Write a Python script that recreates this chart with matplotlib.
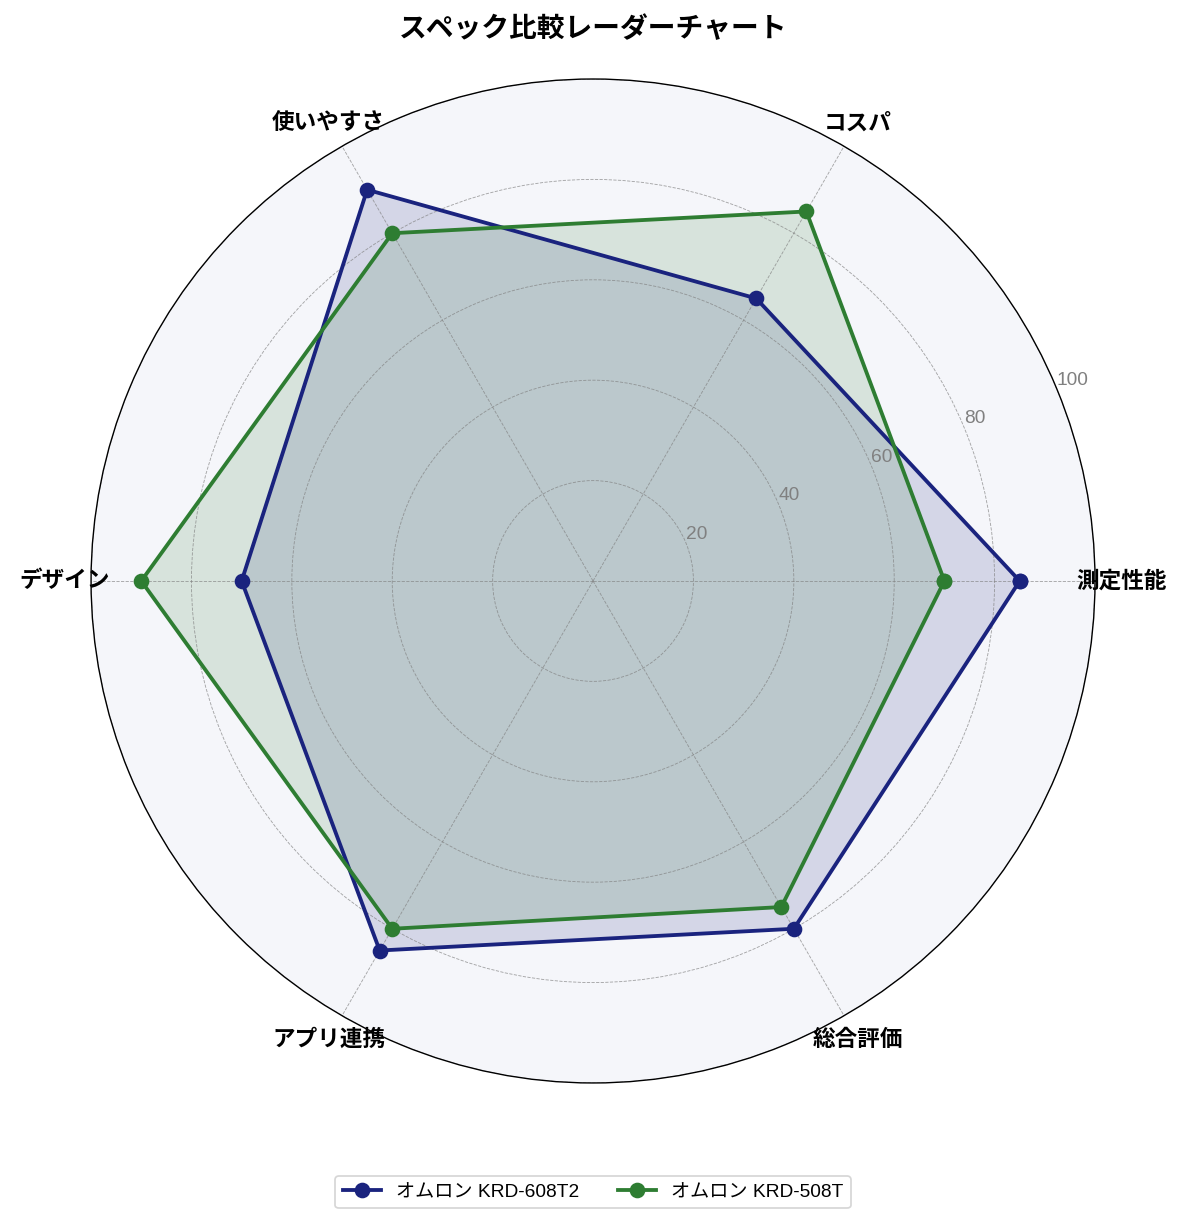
import numpy as np
import matplotlib
matplotlib.use("Agg")
import matplotlib.pyplot as plt

plt.rcParams['font.family'] = ['Liberation Sans', 'Noto Sans CJK JP', 'DejaVu Sans']

# データ
categories = ['測定性能', 'コスパ', '使いやすさ', 'デザイン', 'アプリ連携', '総合評価']
krd608 = [85, 65, 90, 70, 85, 80]
krd508 = [70, 85, 80, 90, 80, 75]
series_names = ['オムロン KRD-608T2', 'オムロン KRD-508T']
r_ticks = [20, 40, 60, 80, 100]

n = len(categories)
angles = np.linspace(0, 2 * np.pi, n, endpoint=False).tolist()
angles += angles[:1]

fig = plt.figure(figsize=(9.48, 9.784), dpi=125)
ax = fig.add_axes([0.0768, 0.1145, 0.8473, 0.8209], polar=True)
ax.set_facecolor('#f5f6fa')

colors = ['#1a237e', '#2e7d32']
for vals, name, c in zip([krd608, krd508], series_names, colors):
    v = vals + vals[:1]
    ax.plot(angles, v, color=c, linewidth=2.2, marker='o', markersize=8, label=name)
    ax.fill(angles, v, color=c, alpha=0.15)

ax.set_ylim(0, 100)
ax.set_yticks(r_ticks)
ax.set_yticklabels([str(t) for t in r_ticks], color='gray', fontsize=11)
ax.set_rlabel_position(22.5)
ax.set_xticks(angles[:-1])
ax.set_xticklabels(categories, fontsize=13, fontweight='bold')
ax.tick_params(axis='x', pad=5)
ax.grid(color='gray', linestyle='--', linewidth=0.5, alpha=0.7)
ax.spines['polar'].set_color('black')

ax.set_title('スペック比較レーダーチャート', fontsize=16, fontweight='bold', pad=24)

ax.legend(loc='upper center', bbox_to_anchor=(0.5, -0.083), ncol=2, fontsize=11,
          frameon=True)

fig.savefig('out.png', dpi=125)
